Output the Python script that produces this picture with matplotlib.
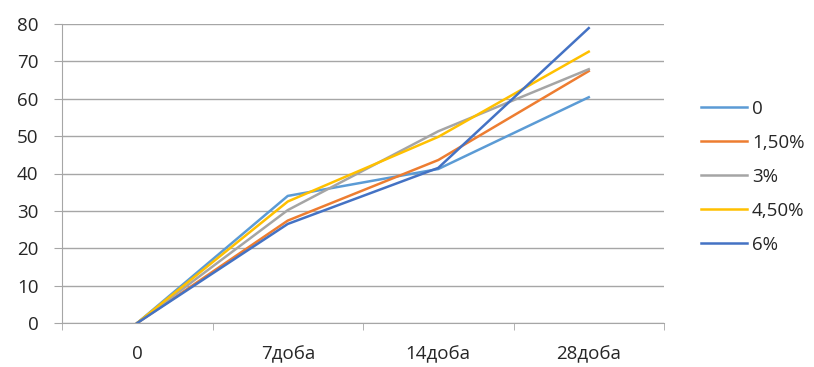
import matplotlib
matplotlib.use("Agg")
import matplotlib.pyplot as plt
import numpy as np

# Data
categories = ["0", "7доба", "14доба", "28доба"]
series_names = ["0", "1,50%", "3%", "4,50%", "6%"]
s_0 = [0, 34.0, 41.2, 60.4]
s_150 = [0, 27.4, 43.6, 67.4]
s_3 = [0, 30.2, 51.3, 67.9]
s_450 = [0, 32.5, 49.8, 72.6]
s_6 = [0, 26.5, 41.5, 78.9]
colors = ["#5B9BD5", "#ED7D31", "#A5A5A5", "#FFC000", "#4472C4"]

plt.rcParams['font.family'] = ['Open Sans', 'DejaVu Sans']
text_color = "#262626"
grid_color = "#A6A6A6"
fs = 13.5

fig = plt.figure(figsize=(8.14, 3.67), dpi=100)
ax = fig.add_axes([62 / 814, 1 - 323 / 367, (664 - 62) / 814, (323 - 24) / 367])

x = np.arange(len(categories))
for name, vals, c in zip(series_names, [s_0, s_150, s_3, s_450, s_6], colors):
    ax.plot(x, vals, color=c, linewidth=1.8, label=name)

ax.set_xlim(-0.5, len(categories) - 0.5)
ax.set_ylim(0, 80)
ax.set_yticks(np.arange(0, 81, 10))
ax.yaxis.grid(True, color=grid_color, linewidth=1)
ax.set_axisbelow(True)

# category labels in the middle, tick marks on the boundaries
ax.set_xticks(x)
ax.set_xticklabels(categories)
ax.set_xticks(np.arange(-0.5, len(categories), 1), minor=True)
ax.tick_params(axis='x', which='major', length=0, pad=16, labelsize=fs, labelcolor=text_color)
ax.tick_params(axis='x', which='minor', length=5, color=grid_color, direction='out')
ax.tick_params(axis='y', length=6, color=grid_color, pad=11, labelsize=fs, labelcolor=text_color)

for side in ["top", "right"]:
    ax.spines[side].set_visible(False)
for side in ["left", "bottom"]:
    ax.spines[side].set_color(grid_color)

leg = ax.legend(loc='upper left', bbox_to_anchor=(693 / 814, 1 - 92 / 367),
                bbox_transform=fig.transFigure, frameon=False, fontsize=fs,
                handlelength=2.5, handletextpad=0.25, labelspacing=0.86,
                borderaxespad=0)
for t in leg.get_texts():
    t.set_color(text_color)

fig.savefig("out.png", dpi=100)
